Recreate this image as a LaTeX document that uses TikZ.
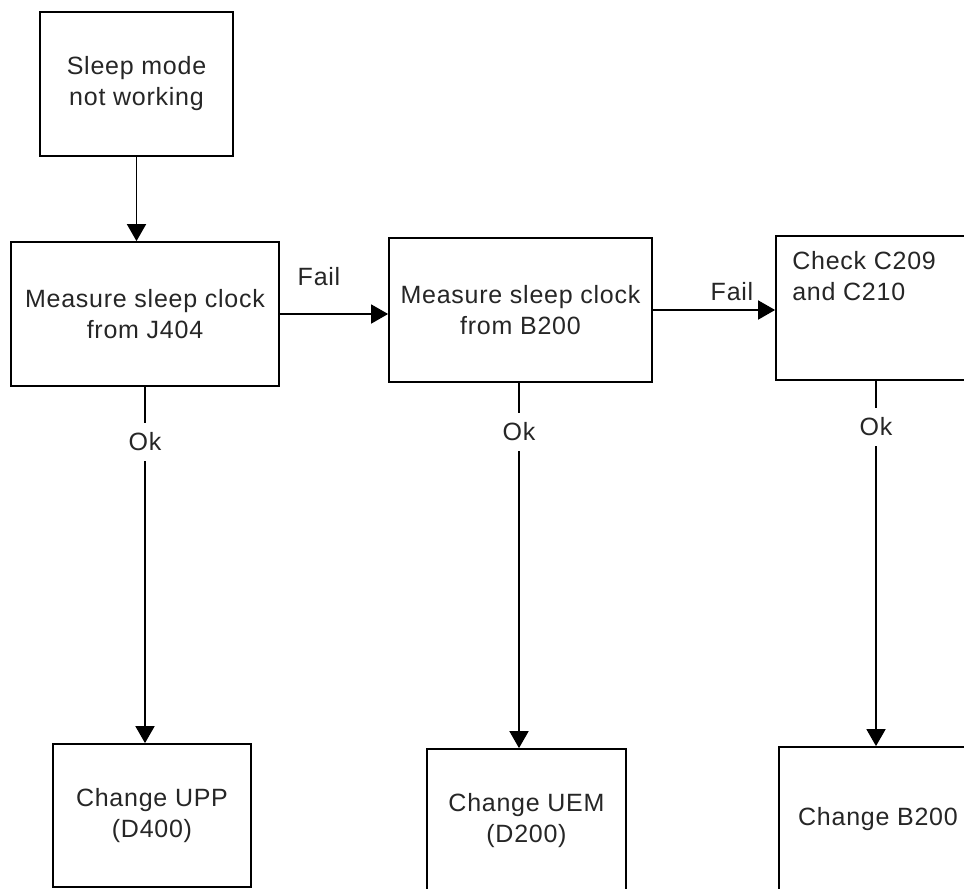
\documentclass[tikz,border=0pt]{standalone}
\usepackage{fontspec}
\setmainfont[LetterSpace=3]{Liberation Sans}
\usetikzlibrary{arrows.meta,calc}
\newcommand{\boxfont}{\fontsize{25pt}{31pt}\selectfont}
\tikzset{
  flowbox/.style={draw=black, line width=1.8pt, inner sep=0pt, align=center, font=\boxfont, text=black!85},
  lbl/.style={inner sep=0pt, font=\boxfont, text=black!85},
  oklbl/.style={inner sep=0pt, font=\boxfont, text=black!85, minimum height=38pt, minimum width=30pt},
  conn/.style={line width=1.8pt},
  arr/.style={line width=1.8pt, -{Triangle[length=17pt,width=19pt]}}
}
\begin{document}
\begin{tikzpicture}[x=1pt, y=-1pt]
\useasboundingbox (0,0) rectangle (964,889);
\clip (0,0) rectangle (964,889);
\fill[white] (0,0) rectangle (964,889);

\node[flowbox, minimum width=193pt, minimum height=144pt] (b1) at (136.5,84) {Sleep mode\\not working};
\node[flowbox, minimum width=268pt, minimum height=144pt] (b2) at (145,314) {Measure sleep clock\\from J404};
\node[flowbox, minimum width=263pt, minimum height=144pt] (b3) at (520.5,310) {Measure sleep clock\\from B200};
\node[flowbox, minimum width=200pt, minimum height=144pt] (b4) at (876,308) {};
\node[lbl, anchor=north west, align=left] (t4) at ($(b4.north west)+(17,16)$) {Check C209\\and C210};
\node[flowbox, minimum width=198pt, minimum height=143pt] (b5) at (152,815.5) {Change UPP\\(D400)};
\node[flowbox, minimum width=199pt, minimum height=144pt] (b6) at (526.5,821) {Change UEM\\(D200)};
\node[flowbox, minimum width=198pt, minimum height=144pt] (b7) at (878,819) {Change B200};

% top arrow
\draw[arr] (b1.south) -- (b1.south |- b2.north);

% Fail arrows
\draw[arr] (b2.east) -- (b2.east -| b3.west);
\node[lbl] (f1) at (319,277) {Fail};
\draw[arr] (b3.east) -- (b3.east -| b4.west);
\node[lbl] (f2) at (732,292) {Fail};

% Ok arrows
\node[oklbl] (ok1) at (145,442) {Ok};
\draw[conn] (ok1.north |- b2.south) -- (ok1.north);
\draw[arr] (ok1.south) -- (ok1.south |- b5.north);

\node[oklbl] (ok2) at (519,432) {Ok};
\draw[conn] (ok2.north |- b3.south) -- (ok2.north);
\draw[arr] (ok2.south) -- (ok2.south |- b6.north);

\node[oklbl] (ok3) at (876,427) {Ok};
\draw[conn] (ok3.north |- b4.south) -- (ok3.north);
\draw[arr] (ok3.south) -- (ok3.south |- b7.north);
\end{tikzpicture}
\end{document}
